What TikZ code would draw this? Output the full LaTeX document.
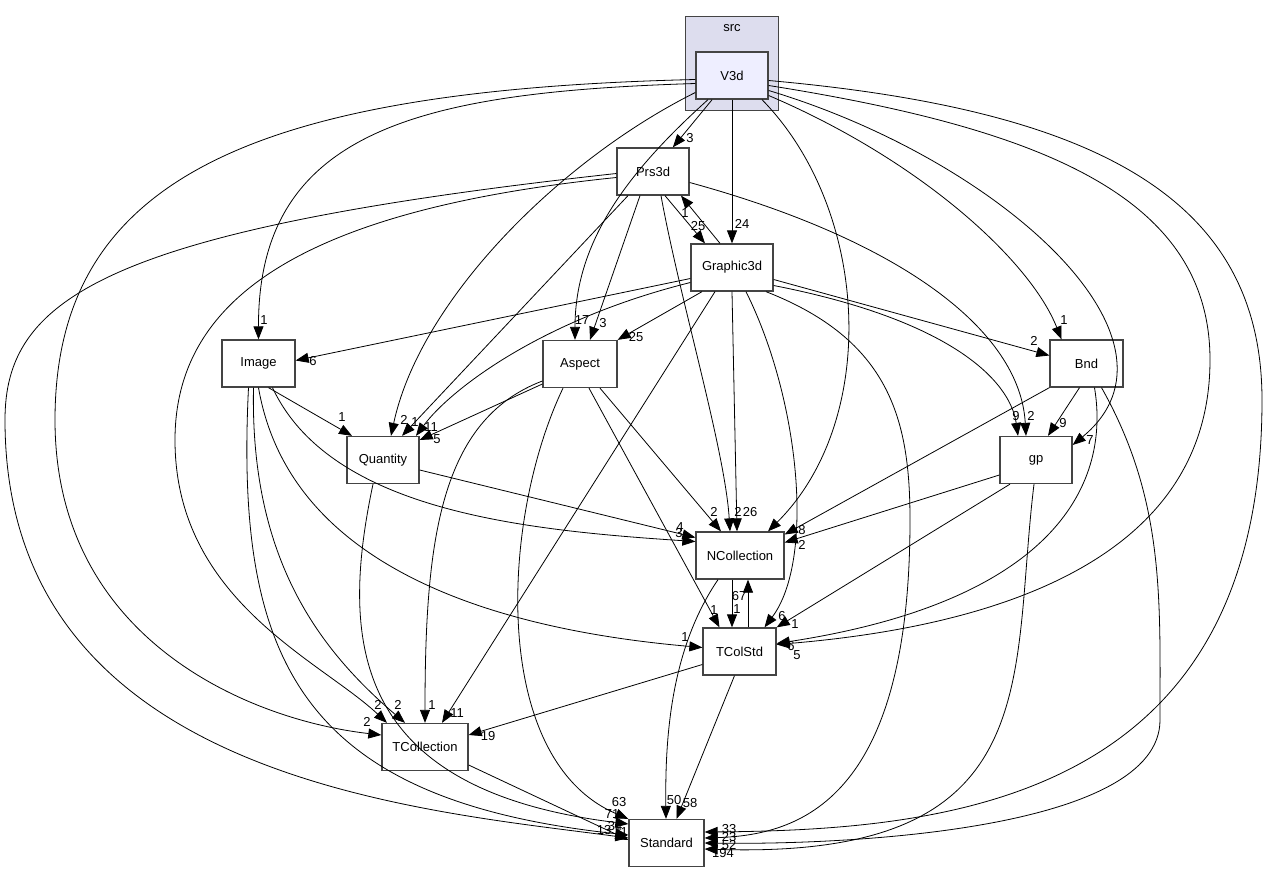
\documentclass[tikz,border=0pt]{standalone}
\usepackage{fontspec}
\setmainfont{Liberation Sans}
\usetikzlibrary{arrows.meta}
\definecolor{clusterfill}{HTML}{DDDDEE}
\definecolor{topfill}{HTML}{EEEEFF}
\definecolor{boxline}{HTML}{444444}
\begin{document}
\begin{tikzpicture}[x=1pt, y=-1pt, font=\fontsize{13}{15}\selectfont,
  dirbox/.style={draw=boxline, line width=1.3pt, fill=white, minimum height=47pt, inner sep=0pt},
  dep/.style={draw=black, line width=0.8pt, -{Triangle[length=13pt,width=10pt]}},
  cnt/.style={inner sep=0pt}]
  \fill[white] (0,0) rectangle (1267,873);
  \useasboundingbox (0,0) rectangle (1267,873);
  % cluster and directories
  \node[draw=boxline, line width=1pt, fill=clusterfill, minimum width=93pt, minimum height=94pt, anchor=north west] (src) at (685,16) {};
  \node (srclbl) at (732,28) {src};
  \node[dirbox, fill=topfill, minimum width=72pt] (V3d) at (732,75.5) {V3d};
  \foreach \n/\x/\y/\w in {Prs3d/653/171.5/72pt, Graphic3d/732/267.5/82pt, Image/258.5/363.5/73pt, Aspect/580/364/74pt,
    Bnd/1086.5/363.5/73pt, Quantity/383/460/72pt, gp/1036/460/72pt, NCollection/740/555.5/88pt,
    TColStd/739.5/651.5/73pt, TCollection/425/747/86pt, Standard/666.5/843/75pt} {
    \node[dirbox, minimum width=\w] (\n) at (\x,\y) {\n};
  }
  % from V3d
  \draw[dep] (V3d) -- (Prs3d);
  \draw[dep] (V3d) -- (Graphic3d);
  \draw[dep] ([yshift=-8pt]V3d.west) .. controls (420,92) and (258,130) .. (Image.north);
  \draw[dep] ([yshift=-4pt]V3d.west) .. controls (250,90) and (55,180) .. (55,420) .. controls (55,640) and (250,720) .. ([yshift=12pt]TCollection.west);
  \draw[dep] ([yshift=-17pt]V3d.west) .. controls (560,160) and (420,300) .. ([xshift=8pt]Quantity.north);
  \draw[dep] ([xshift=-24pt]V3d.south) .. controls (630,170) and (575,240) .. ([xshift=-5pt]Aspect.north);
  \draw[dep] ([xshift=30pt]V3d.south) .. controls (870,210) and (880,420) .. ([xshift=28pt]NCollection.north);
  \draw[dep] ([yshift=-20pt]V3d.east) .. controls (920,160) and (1030,260) .. ([xshift=-25pt]Bnd.north);
  \draw[dep] ([yshift=-15pt]V3d.east) .. controls (1000,160) and (1200,340) .. ([yshift=15pt]gp.east);
  \draw[dep] ([yshift=-10pt]V3d.east) .. controls (1050,130) and (1210,200) .. (1210,360) .. controls (1210,580) and (950,630) .. ([yshift=7pt]TColStd.east);
  \draw[dep] ([yshift=-5pt]V3d.east) .. controls (1100,110) and (1262,200) .. (1262,400) .. controls (1262,800) and (950,830) .. ([yshift=11pt]Standard.east);
  % from Prs3d
  \draw[dep] ([xshift=12pt]Prs3d.south) -- ([xshift=-27pt]Graphic3d.north);
  \draw[dep] ([xshift=-12pt]Graphic3d.north) -- ([xshift=28pt]Prs3d.south);
  \draw[dep] ([xshift=-13pt]Prs3d.south) -- ([xshift=10pt]Aspect.north);
  \draw[dep] ([xshift=8pt]Prs3d.south) .. controls (680,300) and (725,450) .. ([xshift=-10pt]NCollection.north);
  \draw[dep] ([xshift=-25pt]Prs3d.south) -- ([xshift=19pt]Quantity.north);
  \draw[dep] ([yshift=-11pt]Prs3d.east) .. controls (900,240) and (1020,330) .. ([xshift=-10pt]gp.north);
  \draw[dep] ([yshift=-6pt]Prs3d.west) .. controls (300,210) and (175,300) .. (175,440) .. controls (175,600) and (320,660) .. ([xshift=-38pt]TCollection.north);
  \draw[dep] ([yshift=-2pt]Prs3d.west) .. controls (100,230) and (5,300) .. (5,420) .. controls (5,780) and (420,810) .. ([yshift=5pt]Standard.west);
  % from Graphic3d
  \draw[dep] ([yshift=-11pt]Graphic3d.west) -- ([yshift=3pt]Image.east);
  \draw[dep] ([yshift=-15pt]Graphic3d.west) .. controls (540,320) and (450,390) .. ([xshift=33pt]Quantity.north);
  \draw[dep] ([xshift=-30pt]Graphic3d.south) -- (Aspect.north east);
  \draw[dep] ([xshift=-17pt]Graphic3d.south) -- ([xshift=17pt]TCollection.north);
  \draw[dep] (Graphic3d.south) -- ([xshift=-3pt]NCollection.north);
  \draw[dep] ([xshift=14pt]Graphic3d.south) .. controls (800,400) and (815,560) .. ([xshift=25pt]TColStd.north);
  \draw[dep] ([xshift=34pt]Graphic3d.south) .. controls (890,340) and (910,420) .. (910,520) .. controls (910,800) and (800,835) .. ([yshift=5pt]Standard.east);
  \draw[dep] ([yshift=-12pt]Graphic3d.east) -- ([yshift=8pt]Bnd.west);
  \draw[dep] ([yshift=-18pt]Graphic3d.east) .. controls (950,320) and (1010,380) .. ([xshift=-18pt]gp.north);
  % from Image
  \draw[dep] ([xshift=10pt]Image.south) -- ([xshift=-31pt]Quantity.north);
  \draw[dep] ([xshift=14pt]Image.south) .. controls (330,510) and (520,530) .. ([yshift=14pt]NCollection.west);
  \draw[dep] (Image.south) .. controls (290,570) and (500,630) .. ([yshift=4pt]TColStd.west);
  \draw[dep] ([xshift=-5pt]Image.south) .. controls (250,560) and (320,650) .. ([xshift=-20pt]TCollection.north);
  \draw[dep] ([xshift=-10pt]Image.south) .. controls (235,660) and (300,800) .. ([yshift=8pt]Standard.west);
  % from Quantity
  \draw[dep] ([yshift=-10pt]Quantity.east) -- ([yshift=18pt]NCollection.west);
  \draw[dep] ([xshift=-10pt]Quantity.south) .. controls (340,640) and (350,790) .. ([yshift=19pt]Standard.west);
  % from Aspect
  \draw[dep] ([yshift=-20pt]Aspect.west) -- ([yshift=20pt]Quantity.east);
  \draw[dep] ([yshift=-17pt]Aspect.west) .. controls (440,420) and (425,540) .. (TCollection.north);
  \draw[dep] ([xshift=-17pt]Aspect.south) .. controls (500,520) and (490,760) .. (Standard.north west);
  \draw[dep] ([xshift=20pt]Aspect.south) -- ([xshift=-19pt]NCollection.north);
  \draw[dep] ([xshift=9pt]Aspect.south) -- ([xshift=-20pt]TColStd.north);
  % from Bnd and gp
  \draw[dep] ([xshift=-7pt]Bnd.south) -- ([xshift=12pt]gp.north);
  \draw[dep] (Bnd.south west) -- ([yshift=21pt]NCollection.east);
  \draw[dep] ([xshift=8pt]Bnd.south) .. controls (1110,480) and (1060,600) .. ([yshift=8pt]TColStd.east);
  \draw[dep] ([xshift=15pt]Bnd.south) .. controls (1165,500) and (1160,600) .. (1160,720) .. controls (1160,830) and (850,845) .. (Standard.east);
  \draw[dep] ([yshift=-15pt]gp.west) -- ([yshift=13pt]NCollection.east);
  \draw[dep] ([xshift=-26pt]gp.south) -- (TColStd.north east);
  \draw[dep] ([xshift=-2pt]gp.south) .. controls (1010,680) and (1050,860) .. ([yshift=-6pt]Standard.east);
  % lower directories
  \draw[dep] ([xshift=-8pt]NCollection.south) -- ([xshift=-7.5pt]TColStd.north);
  \draw[dep] ([xshift=8.5pt]TColStd.north) -- ([xshift=8pt]NCollection.south);
  \draw[dep] ([xshift=-22pt]NCollection.south) .. controls (670,650) and (665,740) .. ([xshift=-0.5pt]Standard.north);
  \draw[dep] ([xshift=-5pt]TColStd.south) -- ([xshift=10pt]Standard.north);
  \draw[dep] ([yshift=-13pt]TColStd.west) -- ([yshift=12pt]TCollection.east);
  \draw[dep] ([yshift=-18pt]TCollection.east) -- ([yshift=3pt]Standard.west);
  % counts
  \foreach \x/\y/\t [count=\i] in {690/138/3, 742/224/24, 264/320/1, 367/722/2, 404/420/2, 582/320/17, 1064/320/1,
    1090/440/7, 797/655/5, 729/829/33, 698/226/25, 685/213/1, 603/323/3, 738/512/2, 415/422/1, 1031/416/2,
    378/705/2, 604/830/13, 313/361/6, 431/427/11, 636/337/25, 457/713/11, 750/512/26, 782/616/6, 729/837/23,
    1034/341/2, 1016/416/9, 342/417/1, 679/533/3, 680/527/4, 685/637/1, 398/705/2, 615/826/34, 612/814/71,
    437/439/5, 432/705/1, 619/802/63, 714/512/2, 714/610/1, 1063/423/9, 802/530/8, 802/545/2, 795/624/1,
    791/646/6, 729/845/52, 723/853/194, 737/609/1, 739/596/67, 674/800/50, 690/803/58, 488/736/19, 621/832/11} {
    \node[cnt] (cnt\i) at (\x,\y) {\t};
  }
\end{tikzpicture}
\end{document}
